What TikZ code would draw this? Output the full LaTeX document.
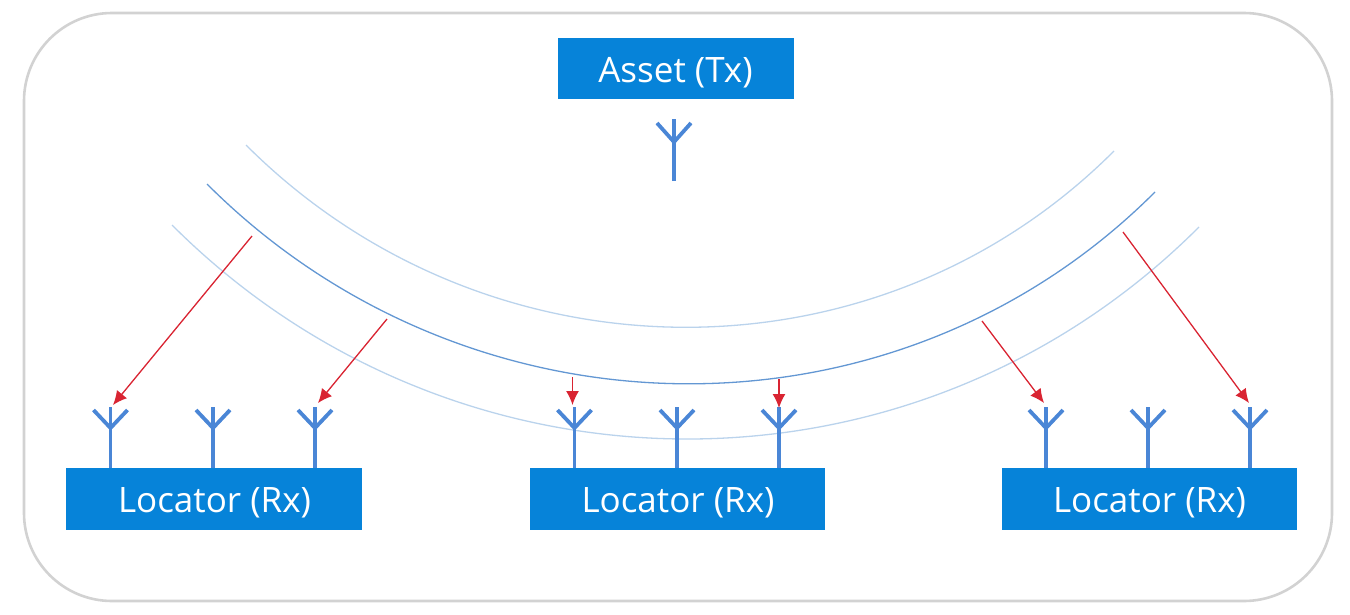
\documentclass[tikz,border=0pt]{standalone}
\usepackage{fontspec}
\setmainfont{Open Sans}
\usetikzlibrary{arrows.meta, positioning}
\definecolor{boxBlue}{HTML}{0683D9}
\definecolor{antBlue}{HTML}{4A86D6}
\definecolor{waveDark}{HTML}{6397D3}
\definecolor{waveLight}{HTML}{BAD3EC}
\definecolor{rayRed}{HTML}{D92432}
\definecolor{frameGray}{HTML}{D2D2D2}
\tikzset{
    frame/.style={draw=frameGray, line width=2.6pt, rounded corners=88pt},
    unitBox/.style={draw=none, fill=boxBlue, inner sep=0pt, minimum height=61.5pt},
    unitText/.style={text=white, inner sep=0pt, font=\fontsize{35}{40}\selectfont},
    antLine/.style={draw=antBlue, line width=3.8pt},
    waveInner/.style={draw=waveDark, line width=1.3pt},
    waveOuter/.style={draw=waveLight, line width=1.3pt},
    ray/.style={-{Latex[length=14pt, width=13pt]}, draw=rayRed, fill=rayRed, line width=1.3pt},
}
\newcommand{\drawAntenna}[3]{
    % stem from the foot up to the tip, then both arms
    \coordinate (#1foot) at (#2, #3);
    \coordinate (#1join) at (#2, 428);
    \coordinate (#1tip) at (#2, 407);
    \coordinate (#1armL) at (#2-17, 410);
    \coordinate (#1armR) at (#2+17, 410);
    \draw[antLine] (#1foot) -- (#1tip);
    \draw[antLine] (#1armL) -- (#1join) -- (#1armR);
}
\newcommand{\drawRay}[4]{
    \coordinate (#1) at (#3);
    \coordinate (#2) at (#4);
    \draw[ray] (#1) -- (#2);
}
\begin{document}
\begin{tikzpicture}[x=1pt, y=-1pt]

    \useasboundingbox (0, 0) rectangle (1350, 614);

    \node[frame, minimum width=1308pt, minimum height=588pt, inner sep=0pt] (border) at (678, 307) {};

    % wave fronts
    \coordinate (waveAl) at (246, 145);
    \coordinate (waveAr) at (1114, 151);
    \coordinate (waveBl) at (207, 184);
    \coordinate (waveBr) at (1155, 192);
    \coordinate (waveCl) at (172, 225);
    \coordinate (waveCr) at (1199, 227);
    \draw[waveOuter] (waveAl) .. controls +(239, 239) and +(-239, 239) .. (waveAr);
    \draw[waveInner] (waveBl) .. controls +(261, 261) and +(-261, 261) .. (waveBr);
    \draw[waveOuter] (waveCl) .. controls +(284, 284) and +(-284, 284) .. (waveCr);

    % transmitter
    \node[unitBox, minimum width=236pt] (asset) at (676, 68.5) {};
    \node[unitText] (assetText) at (675.5, 72.5) {Asset (Tx)};
    \coordinate (txFoot) at (674, 181);
    \coordinate (txTip) at (674, 119);
    \coordinate (txJoin) at (674, 142);
    \coordinate (txArmL) at (657, 123);
    \coordinate (txArmR) at (691, 123);
    \draw[antLine] (txFoot) -- (txTip);
    \draw[antLine] (txArmL) -- (txJoin) -- (txArmR);

    % locators
    \drawAntenna{a1}{110.5}{468}
    \drawAntenna{a2}{213}{468}
    \drawAntenna{a3}{315}{468}
    \drawAntenna{b1}{574.5}{468}
    \drawAntenna{b2}{677}{468}
    \drawAntenna{b3}{779}{468}
    \drawAntenna{c1}{1046}{468}
    \drawAntenna{c2}{1148}{468}
    \drawAntenna{c3}{1250}{468}

    \node[unitBox, minimum width=296pt] (locA) at (214, 499) {};
    \node[unitBox, minimum width=295pt] (locB) at (677.5, 499) {};
    \node[unitBox, minimum width=295pt] (locC) at (1149.5, 499) {};
    \node[unitText] (locAText) at (214.5, 502.5) {Locator (Rx)};
    \node[unitText] (locBText) at (678, 502.5) {Locator (Rx)};
    \node[unitText] (locCText) at (1149.5, 502.5) {Locator (Rx)};

    % red rays
    \drawRay{r1s}{r1e}{252, 236}{113, 405}
    \drawRay{r2s}{r2e}{387, 319}{318, 403}
    \drawRay{r3s}{r3e}{572.5, 377}{572.5, 405}
    \drawRay{r4s}{r4e}{779, 379}{779, 408}
    \drawRay{r5s}{r5e}{982, 321}{1044, 403}
    \drawRay{r6s}{r6e}{1123, 232}{1249, 403}

\end{tikzpicture}
\end{document}
